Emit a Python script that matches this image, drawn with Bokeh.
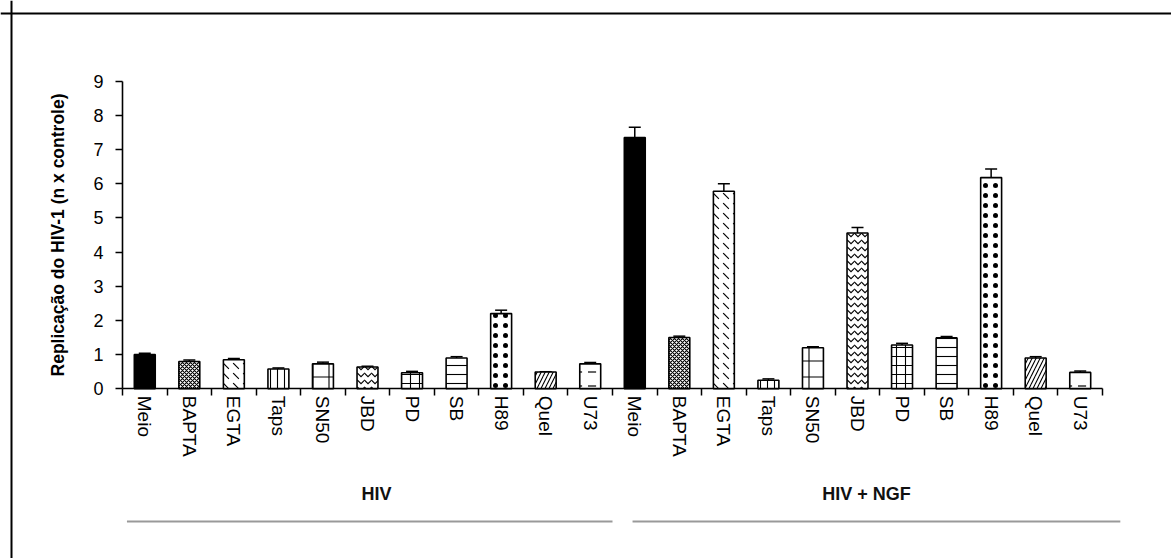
import numpy as np
from bokeh.plotting import figure
from bokeh.models import (ColumnDataSource, Range1d, LinearAxis, FixedTicker,
                          Whisker, TeeHead, Span)
from bokeh.core.properties import value
from bokeh.embed import file_html
from bokeh.resources import INLINE

# ---------------- data ----------------
categories = ["Meio", "BAPTA", "EGTA", "Taps", "SN50", "JBD", "PD", "SB", "H89", "Quel", "U73"]
groups = ["HIV", "HIV + NGF"]
hiv_values = [1.00, 0.80, 0.85, 0.58, 0.73, 0.64, 0.47, 0.90, 2.20, 0.49, 0.73]
hiv_errors = [0.04, 0.04, 0.04, 0.03, 0.05, 0.02, 0.04, 0.04, 0.10, 0.01, 0.04]
ngf_values = [7.35, 1.50, 5.78, 0.25, 1.20, 4.56, 1.28, 1.49, 6.18, 0.90, 0.48]
ngf_errors = [0.30, 0.04, 0.22, 0.04, 0.03, 0.16, 0.05, 0.04, 0.25, 0.04, 0.04]
y_ticks = [0, 1, 2, 3, 4, 5, 6, 7, 8, 9]

# ---------------- styles ----------------
patterns = [" ", "diagonal_cross", "left_diagonal_dash", "vertical_line", "cross",
            "horizontal_wave", "cross", "horizontal_line", "dot", "right_diagonal_line",
            "horizontal_dash"]
scales = [12, 4, 10, 7, 16, 7, 9, 9, 10, 8, 14]
weights = [1, 1.1, 1.1, 1.1, 1.1, 1.1, 1.1, 1.1, 0.6, 1.1, 1.2]
fills = ["black"] + ["white"] * 10
FONT = "Liberation Sans"

# ---------------- layout (pixels) ----------------
W, H = 1171, 558
FRAME_L, FRAME_R = 122, 1102      # canvas x of first / last category edge
Y0_PX, Y9_PX = 388.3, 80.7        # canvas y of value 0 / value 9
n = len(categories) * len(groups)
PX_X = (FRAME_R - FRAME_L) / n
PX_Y = (Y0_PX - Y9_PX) / 9
x_start = -FRAME_L / PX_X
x_end = n + (W - FRAME_R) / PX_X
y_end = 9 + Y9_PX / PX_Y
y_start = -(H - Y0_PX) / PX_Y

# ---------------- sources ----------------
labels = categories * len(groups)
values = hiv_values + ngf_values
errors = hiv_errors + ngf_errors
centers = [i + 0.5 for i in range(n)]
src = ColumnDataSource(dict(
    x=centers, top=values,
    upper=[v + e for v, e in zip(values, errors)],
    lower=[v - e for v, e in zip(values, errors)],
    pat=patterns * 2, sc=scales * 2, wt=weights * 2, fill=fills * 2,
))

p = figure(width=W, height=H, output_backend="svg", toolbar_location=None,
           x_axis_location=None, y_axis_location=None, title=None,
           x_range=Range1d(x_start, x_end), y_range=Range1d(y_start, y_end),
           min_border=0, outline_line_color=None)
p.background_fill_color = "white"
p.border_fill_color = "white"
for g in p.grid:
    g.visible = False

p.vbar(x="x", top="top", bottom=0, width=0.47, source=src,
       fill_color="fill", line_color="black", line_width=1.6,
       hatch_pattern="pat", hatch_scale="sc", hatch_color="black", hatch_weight="wt")

p.add_layout(Whisker(source=src, base="x", upper="upper", lower="lower",
                     line_color="black", line_width=1.5,
                     upper_head=TeeHead(size=12, line_width=1.5, line_color="black"),
                     lower_head=TeeHead(size=12, line_width=1.5, line_color="black")))

# x axis: labels at category centres, boundary ticks as minor ticks
xaxis = LinearAxis(fixed_location=0, bounds=(0, n),
                   ticker=FixedTicker(ticks=centers, minor_ticks=list(range(n + 1))),
                   major_label_overrides={c: l for c, l in zip(centers, labels)},
                   major_tick_out=0, major_tick_in=0, minor_tick_out=7, minor_tick_in=0,
                   minor_tick_line_color="black", minor_tick_line_width=1.5,
                   axis_line_color="black", axis_line_width=1.6,
                   major_label_orientation="vertical", major_label_standoff=0,
                   major_label_text_font=FONT, major_label_text_font_size="19px",
                   major_label_text_color="black")
p.add_layout(xaxis, "below")

yaxis = LinearAxis(fixed_location=0, bounds=(0, 9), ticker=FixedTicker(ticks=y_ticks),
                   major_tick_out=7, major_tick_in=0, minor_tick_out=0, minor_tick_in=0,
                   major_tick_line_width=1.5, axis_line_width=1.6,
                   major_label_standoff=12, major_label_text_font=FONT,
                   major_label_text_font_size="18px", major_label_text_color="black",
                   axis_label="Replicação do HIV-1 (n x controle)",
                   axis_label_text_font=FONT, axis_label_text_font_size="17.5px",
                   axis_label_text_font_style="bold", axis_label_text_color="black",
                   axis_label_standoff=22)
p.add_layout(yaxis, "left")

# group labels and underlines
GROUP_Y = -(493 - 388.3) / PX_Y
LINE_Y = -(521 - 388.3) / PX_Y
m = len(categories)
group_centers = [m * k + m / 2 for k in range(len(groups))]
p.text(x=group_centers, y=[GROUP_Y] * len(groups), text=groups, x_offset=9,
       text_align="center", text_baseline="middle", text_font=value(FONT),
       text_font_size="18px", text_font_style="bold", text_color="#111111")
p.segment(x0=[0.1, m + 0.45], y0=[LINE_Y] * 2, x1=[m + 0.0, 2 * m + 0.4], y1=[LINE_Y] * 2,
          line_color="#999999", line_width=2)

# outer frame (top and left edges)
p.add_layout(Span(location=y_end - 13 / PX_Y, dimension="width", line_color="black", line_width=2))
p.add_layout(Span(location=x_start + 11 / PX_X, dimension="height", line_color="black", line_width=2))

open("out.html", "w").write(file_html(p, INLINE))
